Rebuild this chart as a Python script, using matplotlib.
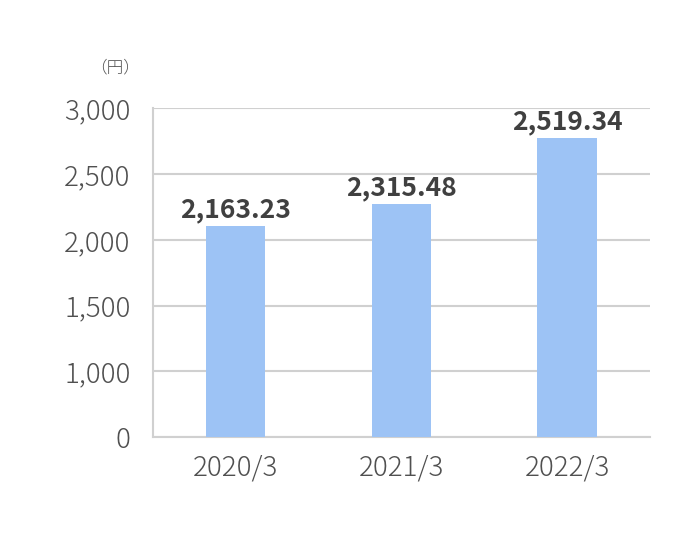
import numpy as np
import matplotlib.pyplot as plt

plt.rcParams['font.family'] = ['Noto Sans CJK JP', 'DejaVu Sans']

# ---- data ----
categories = ['2020/3', '2021/3', '2022/3']
value_labels = ['2,163.23', '2,315.48', '2,519.34']
bar_heights = [2106, 2270, 2775]          # heights as drawn on the (compressed) axis
y_ticks = [0, 1000, 1500, 2000, 2500, 3000]
y_ticklabels = ['0', '1,000', '1,500', '2,000', '2,500', '3,000']

# axis is evenly spaced between ticks (0 -> 1000 compressed)
tick_pos = np.arange(len(y_ticks))


def fwd(v):
    return np.interp(v, y_ticks, tick_pos)


def inv(p):
    return np.interp(p, tick_pos, y_ticks)


fig = plt.figure(figsize=(6.9, 5.44), dpi=100)
ax = fig.add_axes([0.2213, 0.1967, 0.7207, 0.6039])
ax.set_yscale('function', functions=(fwd, inv))

x = np.arange(len(categories))
ax.bar(x, bar_heights, width=0.36, color='#9dc3f5', zorder=3)

for xi, h, lab in zip(x, bar_heights, value_labels):
    ax.annotate(lab, (xi, h), xytext=(0, 2), textcoords='offset points',
                ha='center', va='bottom', fontsize=19, fontweight='bold',
                color='#404040', zorder=4)

ax.set_xlim(-0.5, 2.5)
ax.set_ylim(0, 3000)
ax.set_yticks(y_ticks)
ax.set_yticklabels(y_ticklabels)
ax.set_xticks(x)
ax.set_xticklabels(categories)
ax.yaxis.grid(True, color='#d0d0d0', linewidth=1.5, zorder=0)
ax.tick_params(axis='both', length=0, labelsize=20, colors='#505050')
for lbl in ax.get_xticklabels() + ax.get_yticklabels():
    lbl.set_fontweight('light')
ax.tick_params(axis='y', pad=16)
ax.tick_params(axis='x', pad=12)

for side in ['top', 'right']:
    ax.spines[side].set_visible(False)
for side in ['left', 'bottom']:
    ax.spines[side].set_color('#d0d0d0')
    ax.spines[side].set_linewidth(1.5)

fig.text(115 / 690, 1 - 68 / 544, '（円）', ha='center', va='center',
         fontsize=12, fontweight='light', color='#505050')

plt.savefig('out.png', dpi=100, facecolor='white')
plt.close()
